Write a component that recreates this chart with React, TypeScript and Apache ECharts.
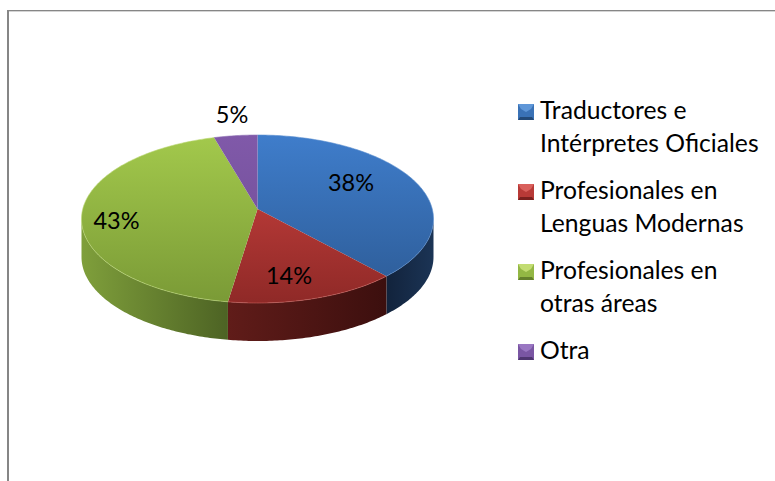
import React, { useEffect, useRef } from "react";
import * as echarts from "echarts";

// ---- data ----
const categories = [
  "Traductores e Intérpretes Oficiales",
  "Profesionales en Lenguas Modernas",
  "Profesionales en otras áreas",
  "Otra",
];
const legendLines = [
  "Traductores e\nIntérpretes Oficiales",
  "Profesionales en\nLenguas Modernas",
  "Profesionales en\notras áreas",
  "Otra\n ",
];
const shares = [38.2, 14.2, 43.1, 4.5];

// ---- styles and layout ----
const topColors = [
  ["#3f7dcb", "#2c5a94"],
  ["#d04441", "#8f2927"],
  ["#a3c94c", "#7a9a36"],
  ["#8059a9", "#6d4c93"],
];
const sideColors = [
  ["#12233c", "#1b3455"],
  ["#601c19", "#3c0f0e"],
  ["#7f9f3b", "#4d6324"],
  ["#3f2d57", "#3f2d57"],
];
const rimColors = ["#5b8fd0", "#c9605c", "#bcd977", "#9377b8"];
const legendTop = ["#5f97d8", "#d9605c", "#c2dc72", "#9a77c2"];
const legendMid = ["#3a72b6", "#b83a37", "#93b744", "#7a56a3"];
const legendBot = ["#234a78", "#7a201e", "#64802c", "#4f3670"];

const CX = 257.5, CY = 219, RX = 176, RY = 84;
const APEX_X = 257.5, APEX_Y = 209, DEPTH = 38;
const labelOffsets = [
  [93.5, -27],
  [31.5, 66],
  [-141, 11],
  [-25.5, -95],
];
const ICON = "path://M0 0H16V16H0Z M0 44L0.01 44Z";
const LEGEND_X = 518;
const legendIconY = [104, 184, 264, 344];

// where the ray from the pie's apex, at this share of the circle, meets the rim
function rimAngle(share: number) {
  const a = (share / 100) * Math.PI * 2;
  const dx = Math.sin(a) * RX, dy = -Math.cos(a) * RY;
  const ox = APEX_X - CX, oy = APEX_Y - CY;
  const A = (dx * dx) / (RX * RX) + (dy * dy) / (RY * RY);
  const B = 2 * ((ox * dx) / (RX * RX) + (oy * dy) / (RY * RY));
  const C = (ox * ox) / (RX * RX) + (oy * oy) / (RY * RY) - 1;
  const t = (-B + Math.sqrt(B * B - 4 * A * C)) / (2 * A);
  const th = Math.atan2((oy + t * dy) / RY, (ox + t * dx) / RX);
  return th < -Math.PI / 2 ? th + Math.PI * 2 : th;
}
function arcPoints(t0: number, t1: number, dy = 0) {
  const n = Math.max(2, Math.ceil(Math.abs(t1 - t0) / 0.015));
  const pts: number[][] = [];
  for (let i = 0; i <= n; i++) {
    const t = t0 + ((t1 - t0) * i) / n;
    pts.push([CX + RX * Math.cos(t), CY + RY * Math.sin(t) + dy]);
  }
  return pts;
}

function makeRender(idx: number) {
  return () => {
    const start = shares.slice(0, idx).reduce((s, v) => s + v, 0);
    const t0 = rimAngle(start);
    const t1 = idx === shares.length - 1 ? Math.PI * 1.5 : rimAngle(start + shares[idx]);
    const children: any[] = [];
    const s0 = Math.max(t0, 0), s1 = Math.min(t1, Math.PI);
    if (s1 > s0) {
      const top = arcPoints(s0, s1);
      const bottom = arcPoints(s1, s0, DEPTH);
      const xs = top.map((p) => p[0]);
      children.push({
        type: "polygon",
        shape: { points: [...top, ...bottom] },
        style: {
          fill: new echarts.graphic.LinearGradient(
            Math.min(...xs), 0, Math.max(...xs), 0,
            [
              { offset: 0, color: sideColors[idx][0] },
              { offset: 1, color: sideColors[idx][1] },
            ],
            true
          ),
        },
      });
    }
    children.push({
      type: "polygon",
      shape: { points: [[APEX_X, APEX_Y], ...arcPoints(t0, t1)] },
      style: {
        fill: new echarts.graphic.LinearGradient(
          0, CY - RY, 0, CY + RY,
          [
            { offset: 0, color: topColors[idx][0] },
            { offset: 1, color: topColors[idx][1] },
          ],
          true
        ),
      },
    });
    children.push({
      type: "polyline",
      shape: { points: arcPoints(t0, t1) },
      style: { stroke: rimColors[idx], lineWidth: 1, fill: "none", opacity: 0.6 },
    });
    children.push({
      type: "text",
      x: APEX_X + labelOffsets[idx][0],
      y: APEX_Y + labelOffsets[idx][1],
      style: {
        text: Math.round(shares[idx]) + "%",
        fontFamily: "Lato",
        fontSize: 23.5,
        fill: "#000000",
        align: "center",
        verticalAlign: "middle",
      },
    });
    return { type: "group", children };
  };
}

export default function App() {
  const ref = useRef<HTMLDivElement>(null);
  useEffect(() => {
    document.body.style.margin = "0";
    const chart = echarts.init(ref.current!, null, { renderer: "svg" });
    chart.setOption({
      animation: false,
      backgroundColor: "#ffffff",
      legend: {
        orient: "vertical",
        left: LEGEND_X,
        top: 93,
        padding: 0,
        itemWidth: 16,
        itemHeight: 44,
        itemGap: 14,
        selectedMode: false,
        formatter: (n: string) => legendLines[categories.indexOf(n)],
        textStyle: { fontFamily: "Lato", fontSize: 24.7, lineHeight: 33, color: "#000000", padding: [0, 0, 0, 1] },
        data: categories.map((name, i) => ({
          name,
          icon: ICON,
          itemStyle: { color: legendMid[i] },
        })),
      },
      graphic: {
        elements: [
          { type: "rect", shape: { x: 7, y: 11, width: 768, height: 1 }, style: { fill: "#d4d4d4" } },
          { type: "rect", shape: { x: 7, y: 10, width: 768, height: 1 }, style: { fill: "#868686" } },
          { type: "rect", shape: { x: 7, y: 10, width: 2, height: 471 }, style: { fill: "#868686" } },
          ...legendIconY.flatMap((y, i) => [
            {
              type: "polygon",
              shape: { points: [[LEGEND_X, y], [LEGEND_X + 16, y], [LEGEND_X + 13, y + 5], [LEGEND_X + 8, y + 8], [LEGEND_X + 3, y + 5]] },
              style: { fill: legendTop[i] },
              z: 10,
            },
            {
              type: "polygon",
              shape: { points: [[LEGEND_X, y + 16], [LEGEND_X + 16, y + 16], [LEGEND_X + 14, y + 13], [LEGEND_X + 2, y + 13]] },
              style: { fill: legendBot[i] },
              z: 10,
            },
          ]),
        ],
      },
      series: categories.map((name, i) => ({
        type: "custom",
        name,
        coordinateSystem: "none",
        silent: true,
        itemStyle: { color: legendMid[i] },
        renderItem: makeRender(i),
        data: [shares[i]],
      })),
    });
    return () => chart.dispose();
  }, []);
  return <div ref={ref} style={{ width: 775, height: 481 }} />;
}
